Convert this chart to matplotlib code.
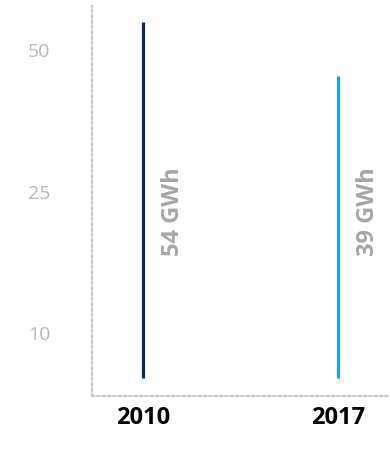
import matplotlib
matplotlib.use("Agg")
import matplotlib.pyplot as plt
from matplotlib import transforms

years = ["2010", "2017"]
energy_gwh = [54, 39]
value_labels = ["54 GWh", "39 GWh"]
bar_colors = ["#13294b", "#00aeef"]
tick_labels = ["50", "25", "10"]

# decorative axis: ticks sit at fixed heights, bars start from a common base
base = -44.9
tick_pos = [46.2, 6.8, -32.4]

plt.rcParams['font.family'] = ['Open Sans', 'DejaVu Sans']

fig = plt.figure(figsize=(3.9, 4.54), dpi=100)
ax = fig.add_axes([0.236, 0.128, 0.764, 0.859])

xs = list(range(len(years)))
ax.vlines(xs, base, energy_gwh, colors=bar_colors, linewidth=2.3)

trans = transforms.blended_transform_factory(ax.transData, ax.transAxes)
for x, lab in zip(xs, value_labels):
    ax.annotate(lab, xy=(x, 0.472), xycoords=trans, xytext=(21.5, 0),
                textcoords="offset points", rotation=90, ha="center", va="center",
                fontsize=17, fontweight="bold", color="#a6a6a6")

ax.set_xlim(-0.26, 1.267)
ax.set_ylim(-49.9, 58.4)
ax.set_xticks(xs, years, fontsize=17, fontweight="bold", color="black")
ax.set_yticks(tick_pos, tick_labels, fontsize=14, color="#b8b8b8")
ax.tick_params(axis="both", length=0)
ax.tick_params(axis="x", pad=7)
ax.tick_params(axis="y", pad=30)

for side in ["top", "right"]:
    ax.spines[side].set_visible(False)
for side in ["left", "bottom"]:
    ax.spines[side].set_linestyle((0, (1, 1.4)))
    ax.spines[side].set_color("#c8c8c8")
    ax.spines[side].set_linewidth(1.6)

fig.savefig("out.png", dpi=100)
